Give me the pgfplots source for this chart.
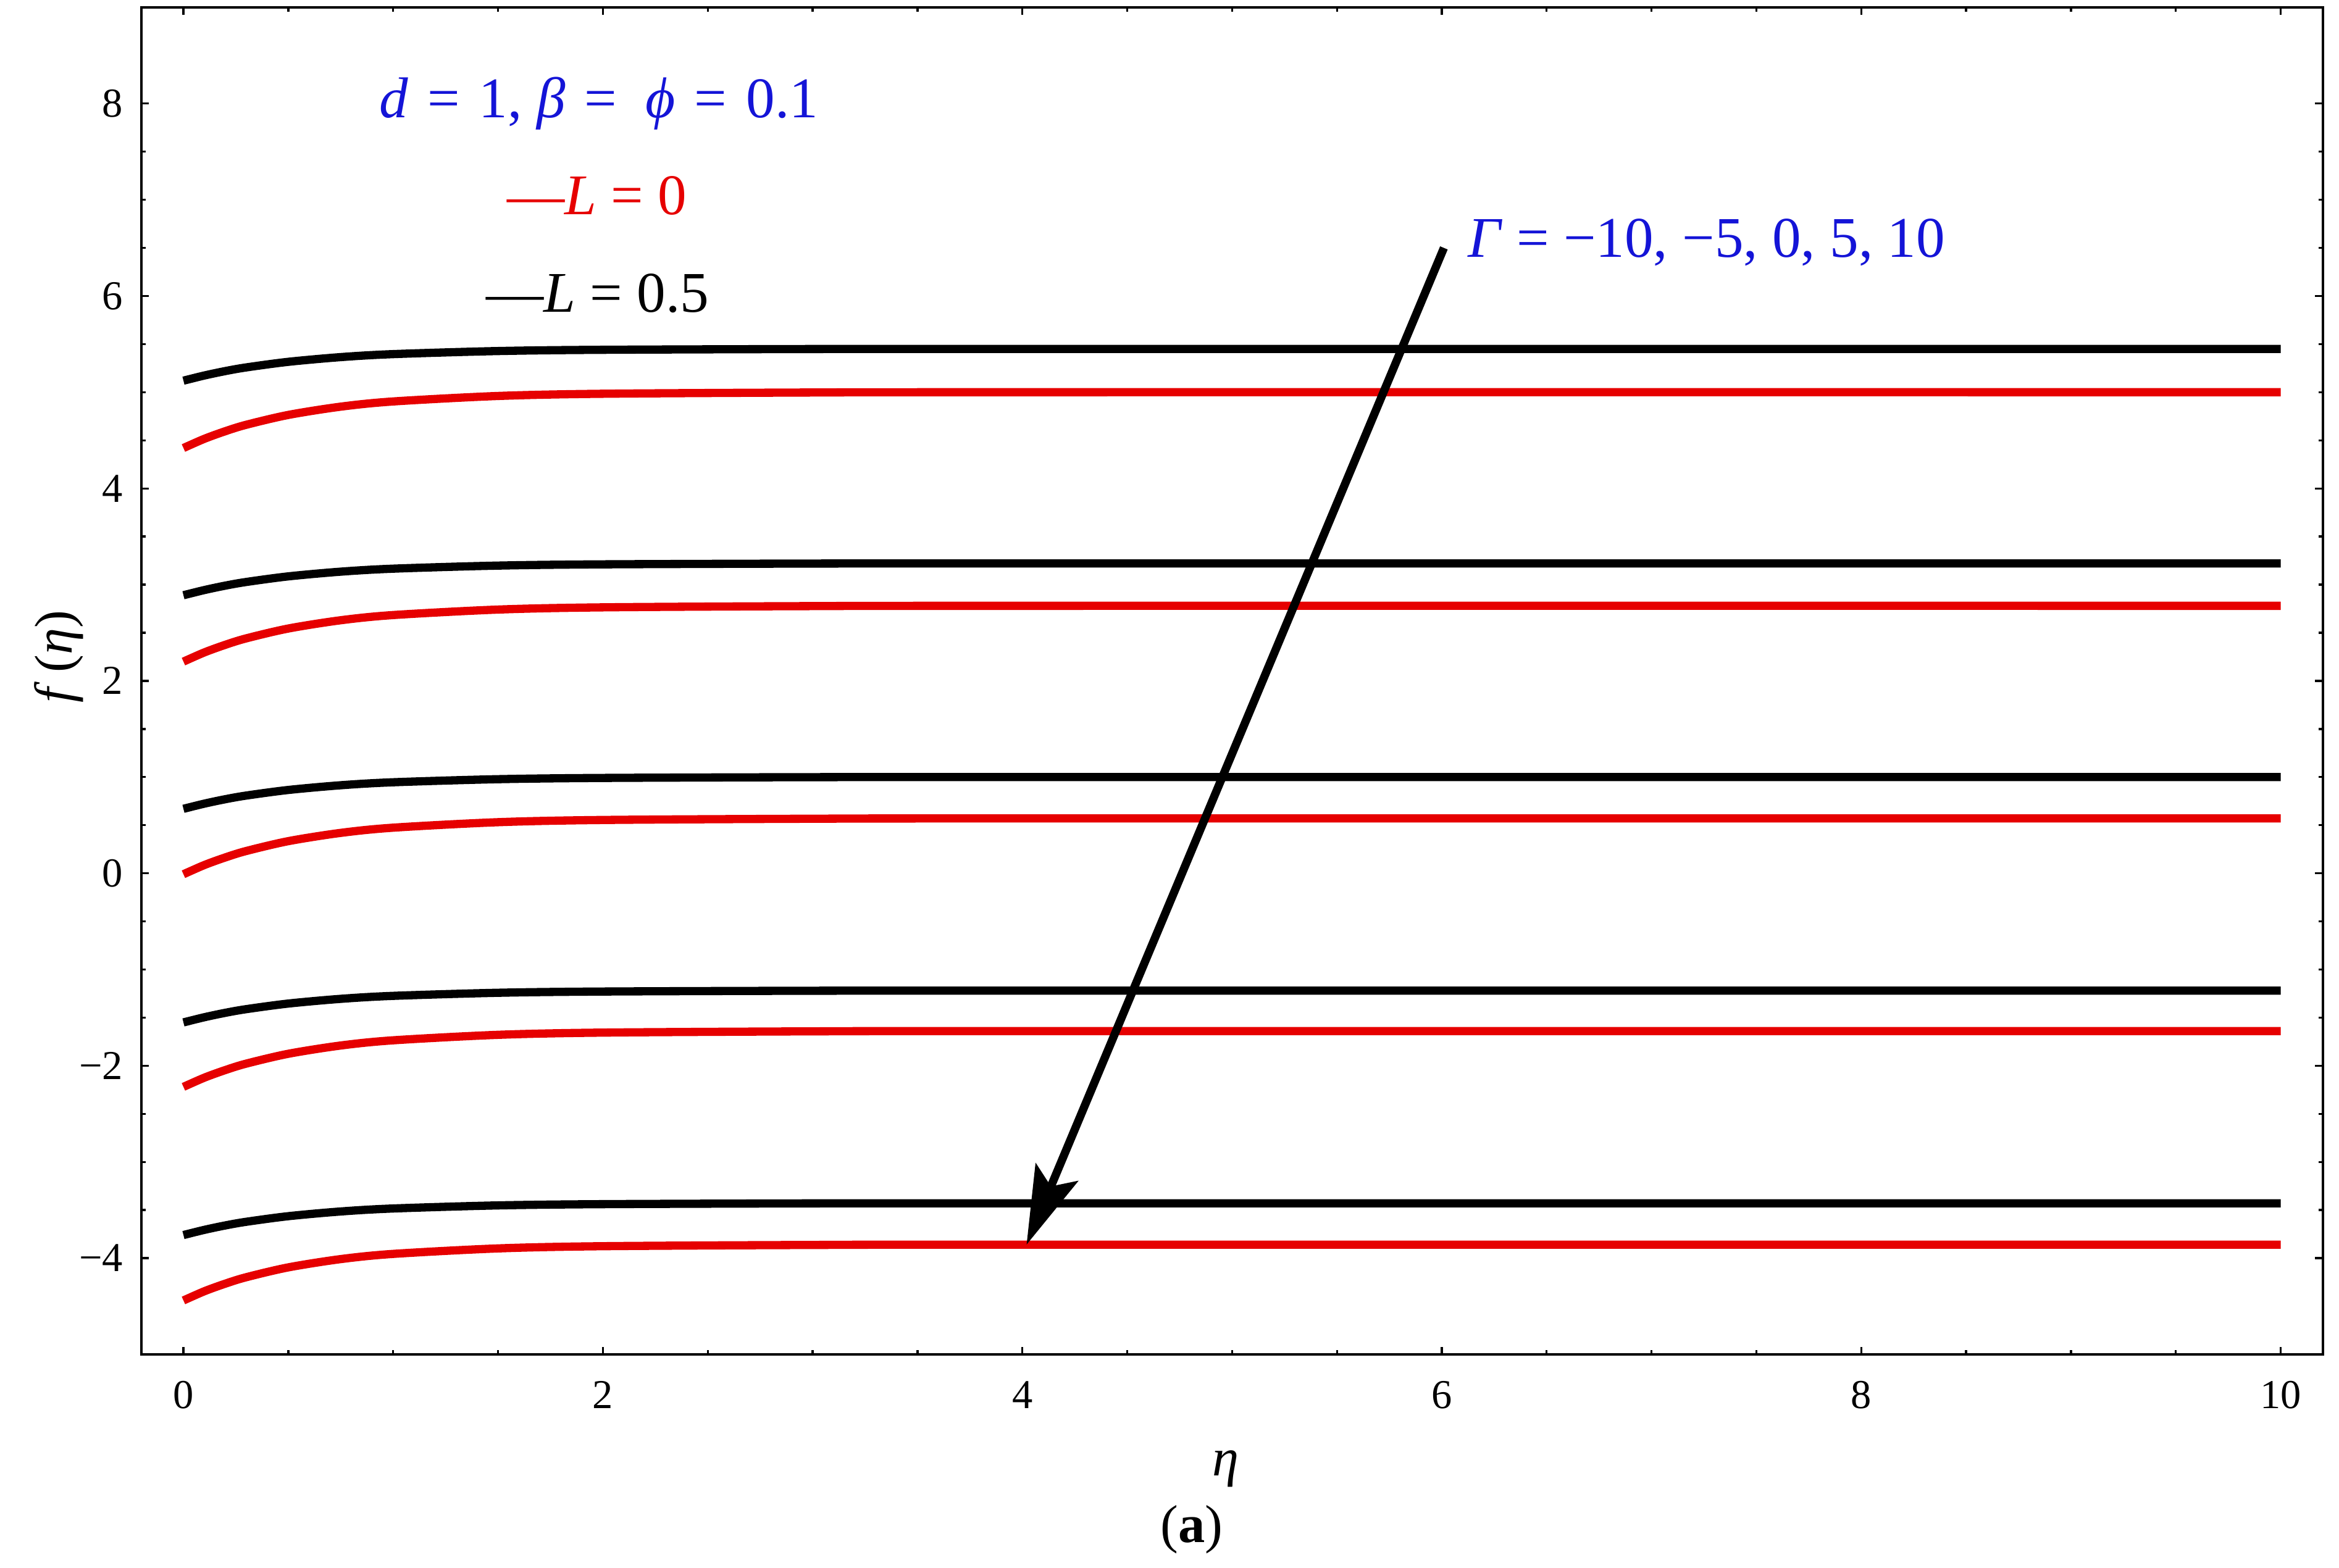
\documentclass[border=0pt]{standalone}
\usepackage{fontspec}
\setmainfont{Liberation Serif}
\usepackage{pgfplots}
\usepackage{pgfplotstable}
\pgfplotsset{compat=1.18}
\usetikzlibrary{arrows.meta}
\definecolor{curvered}{RGB}{230,0,0}
\definecolor{textblue}{RGB}{20,20,215}

% f(eta): b = L=0.5 (black), r = L=0 (red), one pair per Gamma
\pgfplotstableread{
x     b1    r1    b2    r2    b3    r3     b4     r4     b5     r5
0     5.12  4.42  2.89  2.20  0.67  -0.01  -1.55  -2.22  -3.76  -4.44
0.1   5.174 4.516 2.944 2.296 0.724 0.086  -1.496 -2.124 -3.706 -4.344
0.2   5.22  4.595 2.99  2.375 0.77  0.165  -1.45  -2.045 -3.66  -4.265
0.3   5.258 4.662 3.028 2.442 0.808 0.232  -1.412 -1.978 -3.622 -4.198
0.5   5.316 4.764 3.086 2.544 0.866 0.334  -1.354 -1.876 -3.564 -4.096
0.75  5.365 4.85  3.135 2.63  0.915 0.42   -1.305 -1.79  -3.515 -4.01
1     5.396 4.904 3.166 2.684 0.946 0.474  -1.274 -1.736 -3.484 -3.956
1.5   5.428 4.961 3.198 2.741 0.978 0.531  -1.242 -1.679 -3.452 -3.899
2     5.441 4.984 3.211 2.764 0.991 0.554  -1.229 -1.656 -3.439 -3.876
3     5.449 4.997 3.219 2.777 0.999 0.567  -1.221 -1.643 -3.431 -3.863
4     5.45  5.0   3.22  2.78  1.0   0.57   -1.22  -1.64  -3.43  -3.86
10    5.45  5.0   3.22  2.78  1.0   0.57   -1.22  -1.64  -3.43  -3.86
}\fdata

\begin{document}
\begin{tikzpicture}
\begin{axis}[
    scale only axis,
    width=18.65cm, height=11.52cm,
    xmin=-0.2, xmax=10.2, ymin=-5, ymax=9,
    clip=false,
    xtick={0,2,...,10}, ytick={-4,-2,...,8},
    yticklabels={−4,−2,0,2,4,6,8},
    minor tick num=3,
    tick align=inside,
    major tick length=0.65mm, minor tick length=0.37mm,
    axis line style={line width=0.6pt},
    tick style={line width=0.5pt,black},
    /pgf/number format/assume math mode=true,
    tick label style={font=\fontsize{10}{12}\selectfont},
    xticklabel style={yshift=-3pt},
    yticklabel style={xshift=-1pt},
    xlabel={\itshape η},
    xlabel style={at={(axis description cs:0.497,0)},anchor=center,yshift=-0.98cm,font=\fontsize{13}{15}\selectfont},
    ylabel={\textit{f}\,(\textit{η})},
    ylabel style={at={(axis description cs:-0.038,0.518)},anchor=center,font=\fontsize{13}{15}\selectfont},
    every axis plot/.append style={line width=2pt,smooth},
  ]
  \addplot[curvered] table[x=x,y=r1] {\fdata};
  \addplot[black]    table[x=x,y=b1] {\fdata};
  \addplot[curvered] table[x=x,y=r2] {\fdata};
  \addplot[black]    table[x=x,y=b2] {\fdata};
  \addplot[curvered] table[x=x,y=r3] {\fdata};
  \addplot[black]    table[x=x,y=b3] {\fdata};
  \addplot[curvered] table[x=x,y=r4] {\fdata};
  \addplot[black]    table[x=x,y=b4] {\fdata};
  \addplot[curvered] table[x=x,y=r5] {\fdata};
  \addplot[black]    table[x=x,y=b5] {\fdata};

  \draw[line width=2pt,-{Stealth[length=6.7mm,width=3.9mm,inset=1.3mm]}]
    (axis cs:6.01,6.5) -- (axis cs:4.02,-3.86);

  \node[anchor=west,inner sep=0pt,text=textblue,font=\fontsize{14}{16}\selectfont]
    at (axis cs:0.93,8.0) {\textit{d}\,\,=\,\,1, \textit{β}\,\,=\ \ \textit{ϕ}\,\,=\,\,0.1};
  \node[anchor=west,inner sep=0pt,text=curvered,font=\fontsize{14}{16}\selectfont]
    at (axis cs:1.54,7.04) {—\textit{L} = 0};
  \node[anchor=west,inner sep=0pt,text=black,font=\fontsize{14}{16}\selectfont]
    at (axis cs:1.44,6.03) {—\textit{L} = 0.5};
  \node[anchor=west,inner sep=0pt,text=textblue,font=\fontsize{14}{16}\selectfont]
    at (axis cs:6.12,6.56) {\textit{Γ} = −10, −5, 0, 5, 10};

  \node[font=\fontsize{13}{15}\selectfont] at (axis description cs:0.4815,0) [yshift=-1.5cm] {(\textbf{a})};
\end{axis}
\path (current axis.south west) ++(-1.21cm,-1.8cm);
\path (current axis.north east) ++(0.14cm,0.063cm);
\end{tikzpicture}
\end{document}
